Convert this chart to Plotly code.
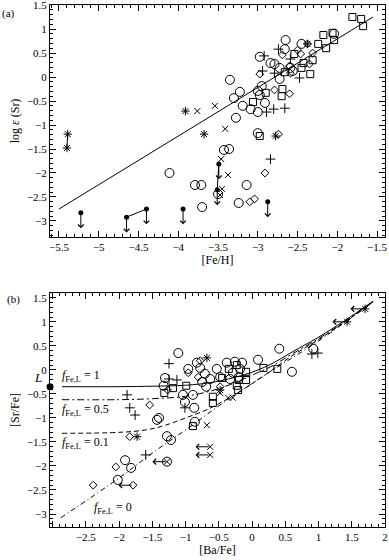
import plotly.graph_objects as go

# ---------------- Panel (a): log eps(Sr) vs [Fe/H] ----------------
a_circ_fe = [-2.65, -2.45, -2.04, -2.66, -2.975, -2.84, -2.79, -2.725, -2.56, -2.59,
             -3.35, -3.225, -3.30, -2.95, -3.00, -2.91, -3.19, -3.09, -3.00, -3.275,
             -2.725, -3.00, -2.975,
             -4.11, -3.79, -3.71, -3.70, -3.425, -3.36, -3.14, -3.24, -3.50]
a_circ_sr = [0.77, 0.69, 0.90, 0.58, 0.42, 0.29, 0.27, 0.19, 0.125, 0.19,
             -0.06, -0.31, -0.44, -0.19, -0.29, -0.54, -0.60, -0.67, -0.73, -0.85,
             -0.04, -1.17, -0.375,
             -2.00, -2.25, -2.25, -2.71, -1.52, -1.50, -2.25, -2.625, -2.44]

a_sq_fe = [-1.81, -1.70, -1.675, -2.175, -2.06, -2.04, -2.24, -2.14, -2.54, -2.31,
           -2.425, -2.45, -2.34, -2.66, -2.69, -2.70, -2.90, -3.06, -2.975]
a_sq_sr = [1.25, 1.21, 1.06, 0.875, 0.92, 0.77, 0.69, 0.60, 0.48, 0.35,
           0.29, 0.19, 0.06, 0.10, -0.25, -0.40, -0.33, -0.52, -1.23]

a_dia_fe = [-2.69, -2.375, -2.31, -2.50, -2.60, -2.35, -2.59, -2.975, -2.79, -2.60,
            -2.74, -2.91, -3.10, -3.04, -2.46]
a_dia_sr = [0.46, 0.69, 0.50, 0.56, 0.23, 0.27, 0.08, 0.06, -0.27, -0.35,
            -1.19, -2.00, -2.60, -2.54, 0.48]

a_plus_fe = [-2.74, -2.92, -2.475, -2.59, -2.89, -2.80, -2.66, -2.94, -2.79, -2.84]
a_plus_sr = [0.58, 0.44, -0.02, 0.375, -0.73, -0.67, -0.65, 0.125, 0.08, -1.71]

a_x_fe = [-3.76, -3.54, -3.41, -3.46, -3.375, -3.45, -3.475]
a_x_sr = [-0.71, -0.60, -1.08, -1.71, -2.04, -2.33, -2.46]

a_star_fe = [-3.91, -3.675, -2.775, -5.39, -5.40, -2.375]
a_star_sr = [-0.71, -1.19, -1.23, -1.19, -1.48, 0.69]

a_lim_fe = [-5.225, -4.65, -4.40, -3.94, -3.49, -3.51, -2.875]
a_lim_sr = [-2.83, -2.92, -2.75, -2.75, -1.81, -2.35, -2.60]

a_fit_fe = [-5.50, -1.55]
a_fit_sr = [-2.75, 1.25]

# pairs of the same star (indices)
a_star_links = [(3, 4)]
a_lim_links = [(1, 2), (4, 5)]

# ---------------- Panel (b): [Sr/Fe] vs [Ba/Fe] ----------------
b_circ_ba = [-1.11, -1.31, -1.33, -0.96, -0.83, -0.78, -0.71, -0.75, -0.69, -0.53,
             -0.38, -0.26, -0.15, -0.18, -0.29, -0.33, -0.20, 0.09, 0.41, 0.60,
             0.92, -1.04, -0.89, -1.01, -0.87, -0.63, -0.48,
             -1.43, -1.40, -0.86, -1.28, -1.22, -1.91, -1.82, -2.02, -1.28]
b_circ_sr = [0.35, -0.17, -0.33, 0.02, 0.15, 0.04, -0.08, -0.25, -0.35, 0.02,
             0.15, 0.17, 0.15, 0.02, -0.06, -0.19, -0.15, 0.21, 0.44, -0.04,
             0.44, -0.52, -0.52, -0.67, -0.79, -0.19, -0.15,
             -1.04, -1.00, -1.08, -1.38, -1.46, -1.88, -2.04, -2.29, -1.91]

b_sq_ba = [-1.19, -1.32, -0.99, -0.59, -0.45, -0.35, -0.23, -0.20, -0.09, -0.09,
           -0.23, -0.21, 0.17, 0.38, -0.89, -0.59]
b_sq_sr = [-0.38, -0.48, -0.33, -0.56, -0.17, 0.02, 0.10, -0.21, -0.04, -0.21,
           -0.33, -0.42, 0.04, 0.02, -1.17, -0.69]

b_dia_ba = [-1.54, -1.84, -2.05, -2.39, -1.79, -0.96, -0.81, -0.78, -1.27, -0.48]
b_dia_sr = [-0.73, -1.39, -2.02, -2.40, -2.40, -0.06, -0.15, 0.19, -0.42, -0.35]

b_plus_ba = [-1.25, -1.88, -1.84, -1.76, -1.60, -1.01, -1.13, -1.25, 0.90, 0.99]
b_plus_sr = [0.13, -0.52, -0.79, -0.94, -1.77, -0.79, -0.21, -0.19, 0.33, 0.35]

b_x_ba = [-0.68, -0.63, -0.63, -1.28, -0.48, -0.29, -0.36]
b_x_sr = [-1.15, -1.60, -1.77, -1.91, -0.48, -0.58, -0.58]

b_star_ba = [-0.68, -0.48, -1.73, 1.70, 1.43]
b_star_sr = [0.25, -0.42, -1.39, 1.27, 1.00]

# points that are upper limits in [Ba/Fe] (left arrows)
b_lim_ba = [1.70, 1.43, -0.63, -0.63, -1.28, -1.79]
b_lim_sr = [1.27, 1.00, -1.60, -1.77, -1.91, -2.40]

# model curves
f1_ba = [-2.86, -2.0, -1.5, -1.0, -0.6, -0.3, 0.0, 0.3, 0.6, 1.0, 1.4, 1.82]
f1_sr = [-0.35, -0.35, -0.34, -0.32, -0.26, -0.17, -0.05, 0.13, 0.37, 0.68, 1.03, 1.43]
f05_ba = [-2.86, -2.0, -1.5, -1.0, -0.6, -0.3, 0.0, 0.3, 0.6, 1.0, 1.4, 1.82]
f05_sr = [-0.62, -0.62, -0.60, -0.55, -0.43, -0.29, -0.11, 0.08, 0.33, 0.65, 1.01, 1.42]
f01_ba = [-2.86, -2.0, -1.6, -1.3, -1.0, -0.7, -0.4, -0.1, 0.2, 0.6, 1.0, 1.4, 1.82]
f01_sr = [-1.32, -1.30, -1.25, -1.15, -1.00, -0.84, -0.63, -0.38, -0.10, 0.29, 0.63, 1.00, 1.42]
f0_ba = [-2.88, -2.0, -1.5, -1.0, -0.5, 0.0, 0.5, 1.0, 1.4, 1.82]
f0_sr = [-3.08, -2.25, -1.73, -1.25, -0.75, -0.28, 0.16, 0.60, 0.99, 1.41]

L_ba = [-3.04]
L_sr = [-0.35]

curve_labels = ["1", "0.5", "0.1", "0"]
curve_label_ba = [-2.89, -2.89, -2.89, -2.41]
curve_label_sr = [-0.12, -0.83, -1.52, -2.875]

# ---------------- figure ----------------
FONT = "Liberation Serif, DejaVu Serif, serif"
BLK = "black"
fig = go.Figure()


def open_sym(xs, ys, sym, size, xa, ya):
    fig.add_trace(go.Scatter(
        x=xs, y=ys, mode="markers", xaxis=xa, yaxis=ya, showlegend=False, hoverinfo="skip",
        marker=dict(symbol=sym, size=size, color=BLK, line=dict(color=BLK, width=1))))


# panel (a)
fig.add_trace(go.Scatter(x=a_fit_fe, y=a_fit_sr, mode="lines", line=dict(color=BLK, width=1),
                         xaxis="x", yaxis="y", showlegend=False, hoverinfo="skip"))
lx, ly = [], []
for i, j in a_star_links:
    lx += [a_star_fe[i], a_star_fe[j], None]
    ly += [a_star_sr[i], a_star_sr[j], None]
for i, j in a_lim_links:
    lx += [a_lim_fe[i], a_lim_fe[j], None]
    ly += [a_lim_sr[i], a_lim_sr[j], None]
fig.add_trace(go.Scatter(x=lx, y=ly, mode="lines", line=dict(color=BLK, width=1),
                         xaxis="x", yaxis="y", showlegend=False, hoverinfo="skip"))
open_sym(a_circ_fe, a_circ_sr, "circle-open", 9, "x", "y")
open_sym(a_sq_fe, a_sq_sr, "square-open", 7, "x", "y")
open_sym(a_dia_fe, a_dia_sr, "diamond-open", 6, "x", "y")
open_sym(a_plus_fe, a_plus_sr, "cross-thin-open", 7, "x", "y")
open_sym(a_x_fe, a_x_sr, "x-thin-open", 6, "x", "y")
open_sym(a_star_fe, a_star_sr, "asterisk-open", 7, "x", "y")
fig.add_trace(go.Scatter(x=a_lim_fe, y=a_lim_sr, mode="markers", xaxis="x", yaxis="y", hoverinfo="skip",
                         showlegend=False, marker=dict(symbol="circle", size=5, color=BLK)))

ann = []
A_LEN = 0.32
for fe, sr in zip(a_lim_fe, a_lim_sr):
    ann.append(dict(x=fe, y=sr - A_LEN, ax=fe, ay=sr, xref="x", yref="y", axref="x", ayref="y",
                    showarrow=True, arrowhead=4, arrowsize=1.1, arrowwidth=1, arrowcolor=BLK, text=""))

# panel (b)
fig.add_trace(go.Scatter(x=f1_ba, y=f1_sr, mode="lines", line=dict(color=BLK, width=1, shape="spline"),
                         xaxis="x2", yaxis="y2", showlegend=False, hoverinfo="skip"))
fig.add_trace(go.Scatter(x=f05_ba, y=f05_sr, mode="lines",
                         line=dict(color=BLK, width=1, dash="7px,3px,2px,3px", shape="spline"),
                         xaxis="x2", yaxis="y2", showlegend=False, hoverinfo="skip"))
fig.add_trace(go.Scatter(x=f01_ba, y=f01_sr, mode="lines",
                         line=dict(color=BLK, width=1, dash="5px,3px", shape="spline"),
                         xaxis="x2", yaxis="y2", showlegend=False, hoverinfo="skip"))
fig.add_trace(go.Scatter(x=f0_ba, y=f0_sr, mode="lines",
                         line=dict(color=BLK, width=1, dash="5px,3px,1px,3px", shape="spline"),
                         xaxis="x2", yaxis="y2", showlegend=False, hoverinfo="skip"))
open_sym(b_circ_ba, b_circ_sr, "circle-open", 9, "x2", "y2")
open_sym(b_sq_ba, b_sq_sr, "square-open", 7, "x2", "y2")
open_sym(b_dia_ba, b_dia_sr, "diamond-open", 6, "x2", "y2")
open_sym(b_plus_ba, b_plus_sr, "cross-thin-open", 7, "x2", "y2")
open_sym(b_x_ba, b_x_sr, "x-thin-open", 6, "x2", "y2")
open_sym(b_star_ba, b_star_sr, "asterisk-open", 7, "x2", "y2")
fig.add_trace(go.Scatter(x=L_ba, y=L_sr, mode="markers", xaxis="x2", yaxis="y2", cliponaxis=False,
                         showlegend=False, hoverinfo="skip", marker=dict(symbol="circle", size=7, color=BLK)))

B_LEN = 0.22
for ba, sr in zip(b_lim_ba, b_lim_sr):
    ann.append(dict(x=ba - B_LEN, y=sr, ax=ba, ay=sr, xref="x2", yref="y2", axref="x2", ayref="y2",
                    showarrow=True, arrowhead=4, arrowsize=1.1, arrowwidth=1, arrowcolor=BLK, text=""))

for lab, ba, sr in zip(curve_labels, curve_label_ba, curve_label_sr):
    ann.append(dict(x=ba, y=sr, xref="x2", yref="y2", xanchor="left", yanchor="middle",
                    showarrow=False, text="<i>f</i><sub>Fe,L</sub> = " + lab,
                    font=dict(family=FONT, size=12, color=BLK)))

ann.append(dict(x=-0.036, y=-0.15, xref="paper", yref="y2", xanchor="center", yanchor="middle",
                showarrow=False, text="<i>L</i>", font=dict(family=FONT, size=13, color=BLK)))
ann.append(dict(x=-0.149, y=1.0, xref="paper", yref="paper", xanchor="left", yanchor="top",
                showarrow=False, text="(a)", font=dict(family=FONT, size=11, color=BLK)))
ann.append(dict(x=-0.135, y=0.452, xref="paper", yref="paper", xanchor="left", yanchor="top",
                showarrow=False, text="(b)", font=dict(family=FONT, size=11, color=BLK)))

axis_common = dict(showline=True, linecolor=BLK, linewidth=1, mirror="allticks", ticks="inside",
                   ticklen=6, tickwidth=1, tickcolor=BLK, showgrid=False, zeroline=False,
                   automargin=False, ticklabeloverflow="allow", fixedrange=True,
                   tickfont=dict(family=FONT, size=11, color=BLK),
                   minor=dict(ticks="inside", ticklen=3, tickwidth=1, tickcolor=BLK, dtick=0.1,
                              showgrid=False))

b_xticks = [-3, -2.5, -2, -1.5, -1, -0.5, 0, 0.5, 1, 1.5, 2]
b_xtext = ["" if v == -3 else ("\u2212" + f"{abs(v):g}" if v < 0 else f"{v:g}") for v in b_xticks]

fig.update_layout(
    width=389, height=560, paper_bgcolor="white", plot_bgcolor="white",
    margin=dict(l=50, r=4, t=5, b=33, autoexpand=False),
    font=dict(family=FONT, size=11, color=BLK),
    hovermode=False,
    xaxis=dict(axis_common, range=[-5.613, -1.40], dtick=0.5, tick0=0, anchor="y",
               title=dict(text="[Fe/H]", font=dict(family=FONT, size=12), standoff=2)),
    yaxis=dict(axis_common, range=[-3.333, 1.5], dtick=0.5, tick0=0, domain=[0.5556, 1.0], anchor="x",
               title=dict(text="log <i>\u03b5</i> (Sr)", font=dict(family=FONT, size=12), standoff=4)),
    xaxis2=dict(axis_common, range=[-3.04, 2.0], tickvals=b_xticks, ticktext=b_xtext, anchor="y2",
                title=dict(text="[Ba/Fe]", font=dict(family=FONT, size=12), standoff=2)),
    yaxis2=dict(axis_common, range=[-3.27, 1.6], dtick=0.5, tick0=0, domain=[0.0, 0.4483], anchor="x2",
                title=dict(text="[Sr/Fe]", font=dict(family=FONT, size=12), standoff=4)),
    annotations=ann,
)

fig.write_html("out.html", config={"displayModeBar": False, "staticPlot": True},
               post_script="document.body.style.margin='0';")
